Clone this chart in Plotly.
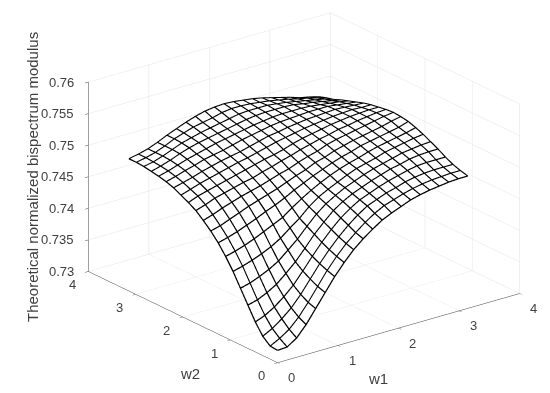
import plotly.graph_objects as go

# grid of the mesh (21 x 21, 0 to pi)
w_grid = [0, 0.15708, 0.31416, 0.47124, 0.62832, 0.7854, 0.94248, 1.09956, 1.25664, 1.41372, 1.5708,
          1.72788, 1.88496, 2.04204, 2.19911, 2.35619, 2.51327, 2.67035, 2.82743, 2.98451, 3.14159]

# surface heights, x 1e-4, lower triangle (surface is symmetric in w1, w2)
row00 = [7319]
row01 = [7320, 7328]
row02 = [7330, 7338, 7349]
row03 = [7347, 7353, 7362, 7374]
row04 = [7368, 7372, 7379, 7388, 7401]
row05 = [7389, 7393, 7399, 7406, 7415, 7428]
row06 = [7410, 7414, 7419, 7425, 7432, 7441, 7453]
row07 = [7428, 7432, 7437, 7443, 7450, 7457, 7464, 7475]
row08 = [7444, 7448, 7453, 7459, 7465, 7472, 7478, 7485, 7493]
row09 = [7457, 7461, 7467, 7473, 7479, 7484, 7489, 7494, 7500, 7506]
row10 = [7468, 7473, 7479, 7484, 7489, 7493, 7497, 7502, 7507, 7511, 7517]
row11 = [7478, 7483, 7489, 7493, 7497, 7501, 7504, 7509, 7513, 7518, 7522, 7527]
row12 = [7485, 7491, 7495, 7499, 7503, 7507, 7511, 7515, 7519, 7522, 7526, 7531, 7535]
row13 = [7491, 7496, 7501, 7505, 7509, 7513, 7517, 7520, 7524, 7528, 7532, 7535, 7538, 7541]
row14 = [7497, 7501, 7505, 7510, 7514, 7518, 7521, 7524, 7528, 7532, 7536, 7538, 7541, 7543, 7545]
row15 = [7501, 7505, 7510, 7514, 7519, 7522, 7525, 7529, 7533, 7536, 7539, 7542, 7544, 7545, 7546, 7547]
row16 = [7504, 7508, 7513, 7518, 7522, 7526, 7530, 7533, 7536, 7539, 7542, 7544, 7546, 7547, 7547, 7547, 7546]
row17 = [7506, 7510, 7515, 7521, 7526, 7530, 7533, 7536, 7539, 7542, 7545, 7547, 7548, 7548, 7548, 7547, 7544, 7542]
row18 = [7508, 7511, 7516, 7522, 7528, 7532, 7536, 7539, 7542, 7545, 7548, 7549, 7549, 7549, 7547, 7545, 7542, 7539, 7536]
row19 = [7509, 7512, 7516, 7522, 7529, 7534, 7539, 7542, 7545, 7549, 7551, 7551, 7550, 7548, 7546, 7543, 7540, 7536, 7533, 7529]
row20 = [7509, 7512, 7516, 7522, 7529, 7535, 7541, 7546, 7550, 7552, 7553, 7552, 7550, 7548, 7545, 7541, 7537, 7533, 7528, 7525, 7521]

rows = [row00, row01, row02, row03, row04, row05, row06, row07, row08, row09, row10,
        row11, row12, row13, row14, row15, row16, row17, row18, row19, row20]

# mirror the triangle into the full matrix
z = [[(rows[max(i, j)][min(i, j)]) / 10000 for i in range(21)] for j in range(21)]

w_ticks = [0, 1, 2, 3, 4]
z_ticks = [0.73, 0.735, 0.74, 0.745, 0.75, 0.755, 0.76]
z_labels = ['0.73', '0.735', '0.74', '0.745', '0.75', '0.755', '0.76']

grid_color = '#e4e4e4'
axis_color = '#404040'
font = dict(family='Liberation Sans', size=13, color='#404040')
lift = 0.00006  # keeps the mesh lines just above the white surface

fig = go.Figure()
fig.add_trace(go.Surface(x=w_grid, y=w_grid, z=z,
                         colorscale=[[0, 'white'], [1, 'white']], showscale=False,
                         lighting=dict(ambient=1, diffuse=0, specular=0, fresnel=0)))

# mesh lines, one trace with gaps between the grid lines
mesh_x, mesh_y, mesh_z = [], [], []
for a in range(21):
    for b in range(21):
        mesh_x.append(w_grid[b]); mesh_y.append(w_grid[a]); mesh_z.append(z[a][b] + lift)
    mesh_x.append(None); mesh_y.append(None); mesh_z.append(None)
    for b in range(21):
        mesh_x.append(w_grid[a]); mesh_y.append(w_grid[b]); mesh_z.append(z[b][a] + lift)
    mesh_x.append(None); mesh_y.append(None); mesh_z.append(None)
fig.add_trace(go.Scatter3d(x=mesh_x, y=mesh_y, z=mesh_z, mode='lines',
                           line=dict(color='black', width=2.5), hoverinfo='skip'))

axis = dict(range=[0, 4], tickvals=w_ticks, title='', showticklabels=False,
            showbackground=False, gridcolor=grid_color, gridwidth=1, zeroline=False,
            showline=True, linecolor=axis_color, linewidth=1, ticks='outside', ticklen=4,
            tickcolor=axis_color, showspikes=False)

# tick labels as scene annotations so they sit where the reference has them
labels = []
for t in w_ticks:
    labels.append(dict(x=t, y=0, z=0.73, text=str(t), showarrow=False, font=font, xshift=14, yshift=-15))
    labels.append(dict(x=0, y=t, z=0.73, text=str(t), showarrow=False, font=font, xshift=-16, yshift=-13))
for t, s in zip(z_ticks, z_labels):
    labels.append(dict(x=0, y=4, z=t, text=s, showarrow=False, font=font, xanchor='right', xshift=-12))

title_font = dict(font, size=15)

fig.update_layout(
    width=550, height=393, paper_bgcolor='white', showlegend=False,
    margin=dict(l=0, r=0, t=0, b=0),
    scene=dict(
        domain=dict(x=[0.0939, 0.9819], y=[0.043, 1]),
        xaxis=axis, yaxis=axis,
        zaxis=dict(axis, range=[0.73, 0.76], tickvals=z_ticks),
        aspectmode='manual', aspectratio=dict(x=1.625, y=1.65, z=1.085),
        camera=dict(projection=dict(type='orthographic'),
                    up=dict(x=0, y=0, z=1), center=dict(x=0, y=0, z=-0.047),
                    eye=dict(x=-1.14, y=-1.48, z=0.70)),
        annotations=labels,
    ),
    # the page puts the figure 8 px in from the corner
    annotations=[
        dict(text='w1', x=370 / 550, y=1 - 370 / 393, xref='paper', yref='paper', xanchor='center', yanchor='middle',
             showarrow=False, font=title_font),
        dict(text='w2', x=182 / 550, y=1 - 365 / 393, xref='paper', yref='paper', xanchor='center', yanchor='middle',
             showarrow=False, font=title_font),
        dict(text='Theoretical normalized bispectrum modulus', x=24 / 550, y=1 - 169 / 393, xref='paper', yref='paper',
             xanchor='center', yanchor='middle', textangle=-90, showarrow=False, font=title_font),
    ],
)

fig.write_html("out.html")
